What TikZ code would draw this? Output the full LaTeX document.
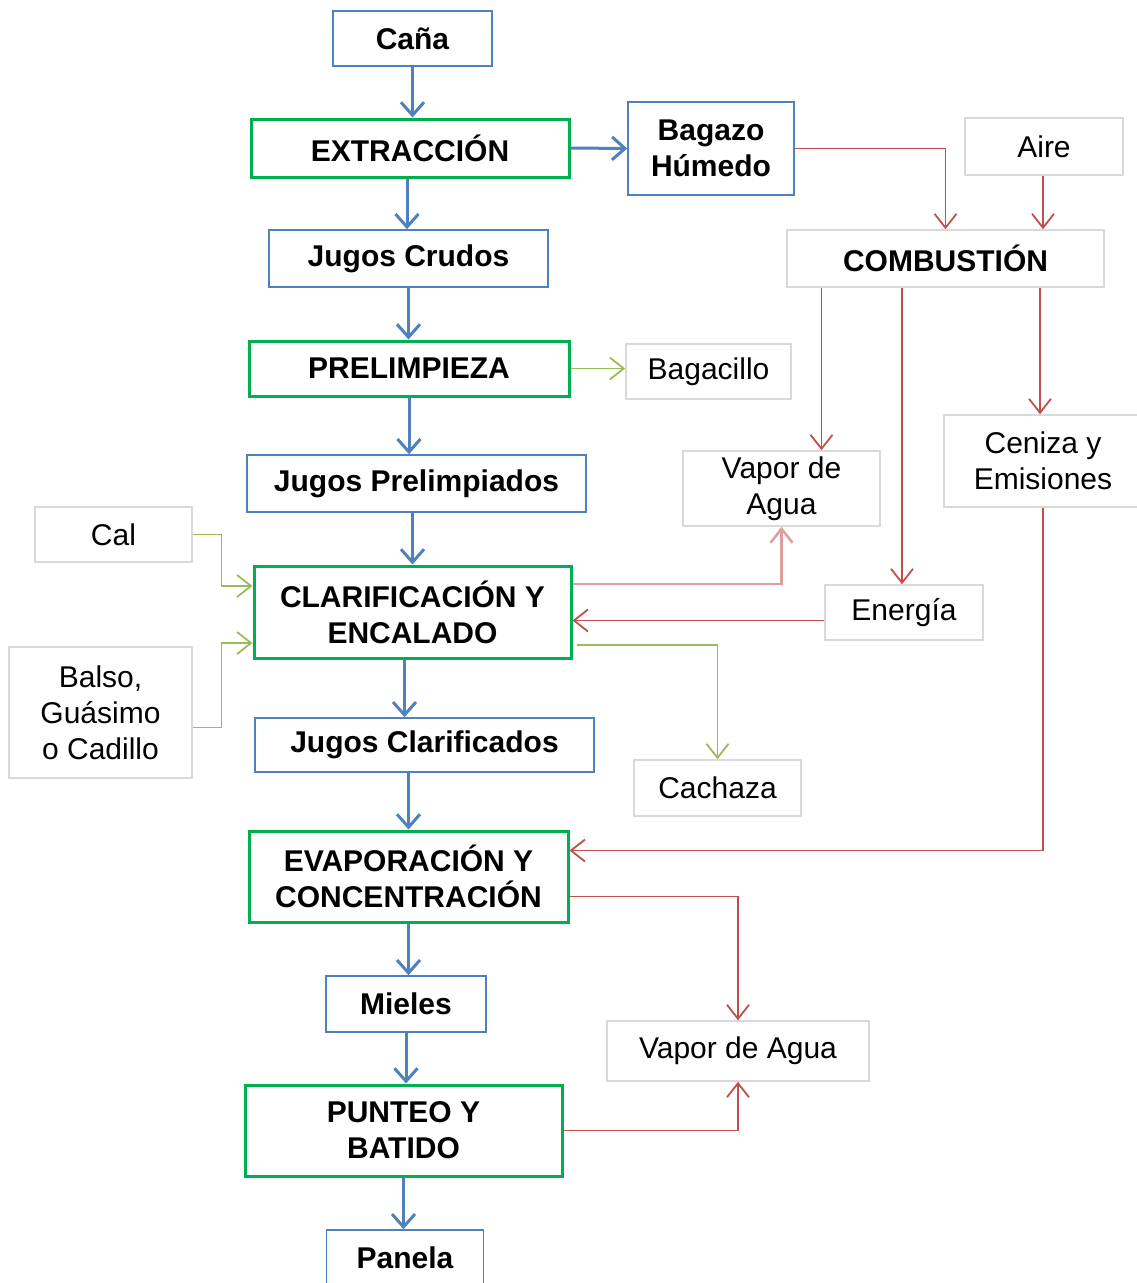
\documentclass[tikz,border=0pt]{standalone}
\usepackage{fontspec}
\setmainfont{Liberation Sans}
\usepackage{xcolor}
\usetikzlibrary{arrows.meta,positioning}
\definecolor{flowblue}{HTML}{4F81BD}
\definecolor{procgreen}{HTML}{00B050}
\definecolor{sidegray}{HTML}{D9D9D9}
\definecolor{heatred}{HTML}{C0504D}
\definecolor{wastegreen}{HTML}{9BBB59}

\begin{document}
\begin{tikzpicture}[
  x=1pt, y=-1pt,
  box/.style={draw=flowblue, line width=1.5pt, align=center, inner sep=0pt, font=\fontsize{30}{36}\selectfont\bfseries},
  procbox/.style={box, draw=procgreen, line width=3pt},
  sidebox/.style={draw=sidegray, line width=1.5pt, align=center, inner sep=0pt, font=\fontsize{30}{36}\selectfont},
  sidebold/.style={sidebox, font=\fontsize{30}{36}\selectfont\bfseries},
  arr/.style={draw=flowblue, line width=3pt, -{Straight Barb[length=13pt,width=23pt]}},
  redarr/.style={draw=heatred, line width=1.8pt, -{Straight Barb[length=14pt,width=22pt]}},
  redsoft/.style={redarr, draw=heatred!55!white, line width=2.5pt},
  greenarr/.style={draw=wastegreen, line width=1.8pt, -{Straight Barb[length=14pt,width=22pt]}}
]
\useasboundingbox (0,0) rectangle (1136,1283);

% main line
\node[box, minimum width=159pt, minimum height=55pt] (cana) at (412.5,38.5) {Caña};
\node[procbox, minimum width=318pt, minimum height=58pt] (extr) at (410,148) {EXTRACCIÓN};
\node[box, minimum width=279pt, minimum height=57pt] (crudos) at (408.5,258.5) {Jugos Crudos};
\node[procbox, minimum width=320pt, minimum height=55pt] (prelim) at (409,368.5) {PRELIMPIEZA};
\node[box, minimum width=339pt, minimum height=57pt] (jprelim) at (416.5,483.5) {Jugos Prelimpiados};
\node[procbox, minimum width=317pt, minimum height=92pt] (clarif) at (412.5,612) {CLARIFICACIÓN Y\\ENCALADO};
\node[box, minimum width=339pt, minimum height=54pt] (jclar) at (424.5,745) {Jugos Clarificados};
\node[procbox, minimum width=319pt, minimum height=91pt] (evap) at (408.5,876.5) {EVAPORACIÓN Y\\CONCENTRACIÓN};
\node[box, minimum width=160pt, minimum height=56pt] (mieles) at (406,1004) {Mieles};
\node[procbox, minimum width=317pt, minimum height=91pt] (punteo) at (403.5,1130.5) {PUNTEO Y\\BATIDO};
\node[box, minimum width=157pt, minimum height=56pt] (panela) at (405,1258) {Panela};

% side streams
\node[box, minimum width=166pt, minimum height=93pt] (bagazo) at (711,148.5) {Bagazo\\Húmedo};
\node[sidebox, minimum width=158pt, minimum height=57pt] (aire) at (1044,146.5) {Aire};
\node[sidebold, minimum width=317pt, minimum height=57pt] (comb) at (945.5,258.5) {COMBUSTIÓN};
\node[sidebox, minimum width=165pt, minimum height=55pt] (bagacillo) at (708.5,371.5) {Bagacillo};
\node[sidebox, minimum width=197pt, minimum height=75pt] (vapora) at (781.5,488.5) {Vapor de\\Agua};
\node[sidebox, minimum width=198pt, minimum height=92pt] (ceniza) at (1043,461) {Ceniza y\\Emisiones};
\node[sidebox, minimum width=157pt, minimum height=55pt] (cal) at (113.5,534.5) {Cal};
\node[sidebox, minimum width=158pt, minimum height=55pt] (energia) at (904,612.5) {Energía};
\node[sidebox, minimum width=183pt, minimum height=131pt] (balso) at (100.5,712.5) {Balso,\\Guásimo\\o Cadillo};
\node[sidebox, minimum width=167pt, minimum height=56pt] (cachaza) at (717.5,788) {Cachaza};
\node[sidebox, minimum width=262pt, minimum height=60pt] (vaporb) at (738,1051) {Vapor de Agua};
\coordinate (balsoout) at ([yshift=-15pt]balso.east);

% main flow
\draw[arr] (cana.south) -- (cana.south |- extr.north);
\draw[arr] ([xshift=-3pt]extr.south) -- ([xshift=-3pt]extr.south |- crudos.north);
\draw[arr] (crudos.south) -- (crudos.south |- prelim.north);
\draw[arr] (prelim.south) -- (prelim.south |- jprelim.north);
\draw[arr] (jprelim.south -| clarif.north) -- (clarif.north);
\draw[arr] ([xshift=-8pt]clarif.south) -- ([xshift=-8pt]clarif.south |- jclar.north);
\draw[arr] (jclar.south -| evap.north) -- (evap.north);
\draw[arr] (evap.south) -- (evap.south |- mieles.north);
\draw[arr] (mieles.south) -- (mieles.south |- punteo.north);
\draw[arr] (punteo.south) -- (punteo.south |- panela.north);
\draw[arr] (extr.east) -- (bagazo.west);

% combustion
\draw[redarr] (bagazo.east) -| (comb.north);
\draw[redarr] ([xshift=-1pt]aire.south) -- ([xshift=-1pt]aire.south |- comb.north);
\draw[redarr] ([xshift=40pt]vapora.north |- comb.south) -- ([xshift=40pt]vapora.north);
\draw[redarr] ([xshift=-2pt]energia.north |- comb.south) -- ([xshift=-2pt]energia.north);
\draw[redarr] ([xshift=-3pt]ceniza.north |- comb.south) -- ([xshift=-3pt]ceniza.north);
\draw[redsoft] ([yshift=28pt]clarif.east) -| (vapora.south);
\draw[redarr] ([yshift=-8pt]energia.west) -- ([yshift=-8pt]energia.west -| clarif.east);
\draw[redarr] (ceniza.south) |- ([yshift=26pt]evap.east);
\draw[redarr] ([yshift=-20pt]evap.east) -| (vaporb.north);
\draw[redarr] (punteo.east) -| (vaporb.south);

% inputs and residues
\draw[greenarr] (prelim.east) -- (prelim.east -| bagacillo.west);
\draw[greenarr] (cal.east) -- ([xshift=-31pt]clarif.west |- cal.east) |- ([yshift=26pt]clarif.west);
\draw[greenarr] (balsoout) -- ([xshift=-31pt]clarif.west |- balsoout) |- ([yshift=-31pt]clarif.west);
\draw[greenarr] ([xshift=4pt,yshift=-33pt]clarif.east) -| (cachaza.north);
\end{tikzpicture}
\end{document}
